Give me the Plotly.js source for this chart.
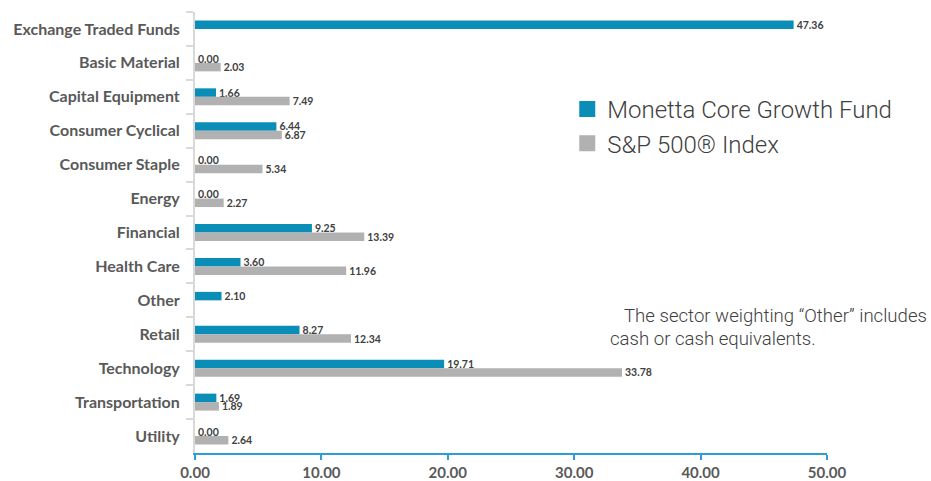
<!DOCTYPE html>
<html>
<head>
<meta charset="utf-8">
<script src="https://cdn.plot.ly/plotly-3.0.1.min.js"></script>
<style>html,body{margin:0;padding:0;background:#fff;}#chart{width:931px;height:481px;}</style>
</head>
<body>
<div id="chart"></div>
<script>
const categories = ["Exchange Traded Funds","Basic Material","Capital Equipment","Consumer Cyclical","Consumer Staple","Energy","Financial","Health Care","Other","Retail","Technology","Transportation","Utility"];
const fundValues = [47.36, 0.00, 1.66, 6.44, 0.00, 0.00, 9.25, 3.60, 2.10, 8.27, 19.71, 1.69, 0.00];
const indexValues = [null, 2.03, 7.49, 6.87, 5.34, 2.27, 13.39, 11.96, null, 12.34, 33.78, 1.89, 2.64];
const xTicks = [0, 10, 20, 30, 40, 50];
const seriesNames = ["Monetta Core Growth Fund", "S&P 500® Index"];
const seriesColors = ["#0A8EB8", "#B1B1B1"];

const fmt = v => (v === null ? "" : v.toFixed(2));
const labelFont = {family: "Lato, 'Open Sans', sans-serif", size: 10.5, color: "#404040", weight: 700};

const traces = [
  {type: "bar", orientation: "h", name: seriesNames[0], y: categories, x: fundValues,
   marker: {color: seriesColors[0]}, text: fundValues.map(fmt), textposition: "outside",
   constraintext: "none", textfont: labelFont, cliponaxis: false, showlegend: false},
  {type: "bar", orientation: "h", name: seriesNames[1], y: categories, x: indexValues,
   marker: {color: seriesColors[1]}, text: indexValues.map(fmt), textposition: "outside",
   constraintext: "none", textfont: labelFont, cliponaxis: false, showlegend: false},
  // legend-only entries (square keys)
  {type: "scatter", mode: "markers", name: seriesNames[0], x: [null], y: [categories[0]],
   marker: {symbol: "square", size: 16, color: seriesColors[0]}, showlegend: true},
  {type: "scatter", mode: "markers", name: seriesNames[1], x: [null], y: [categories[0]],
   marker: {symbol: "square", size: 16, color: seriesColors[1]}, showlegend: true}
];

const layout = {
  width: 931, height: 481,
  margin: {l: 195, r: 104, t: 12, b: 28},
  paper_bgcolor: "#fff", plot_bgcolor: "#fff",
  barmode: "group", bargap: 0.5, bargroupgap: 0,
  showlegend: true,
  legend: {x: 0.589, y: 0.83, xanchor: "left", yanchor: "top", traceorder: "normal",
           font: {family: "Roboto, sans-serif", size: 24, color: "#404040", weight: 300},
           tracegroupgap: 0, itemsizing: "trace", itemwidth: 30, bgcolor: "rgba(0,0,0,0)"},
  xaxis: {range: [0, 50], tickvals: xTicks, tickformat: ".2f", showgrid: false, zeroline: false,
          showline: true, linecolor: "#2E9BDB", linewidth: 2, ticks: "outside", ticklen: 5,
          tickcolor: "#2E9BDB", tickwidth: 2,
          tickfont: {family: "Lato, 'Open Sans', sans-serif", size: 15, color: "#595959", weight: 700}},
  yaxis: {type: "category", categoryorder: "array", categoryarray: categories,
          range: [categories.length - 0.5, -0.5], autorange: false,
          showgrid: false, zeroline: false, showline: true, linecolor: "#D9D9D9", linewidth: 2,
          ticks: "outside", tickson: "boundaries", ticklen: 7, tickcolor: "#D9D9D9", tickwidth: 2,
          ticklabelstandoff: 10,
          tickfont: {family: "Lato, 'Open Sans', sans-serif", size: 16, color: "#595959", weight: 700}},
  annotations: [
    {xref: "paper", yref: "paper", x: (622 - 195) / 632, y: 1 - (316 - 12) / 441, xanchor: "left", yanchor: "middle",
     text: "The sector weighting “Other” includes", showarrow: false,
     font: {family: "Roboto, sans-serif", size: 18.6, color: "#404040", weight: 300}},
    {xref: "paper", yref: "paper", x: (608 - 195) / 632, y: 1 - (339 - 12) / 441, xanchor: "left", yanchor: "middle",
     text: "cash or cash equivalents.", showarrow: false,
     font: {family: "Roboto, sans-serif", size: 18.6, color: "#404040", weight: 300}}
  ]
};

Plotly.newPlot("chart", traces, layout, {displayModeBar: false, staticPlot: true});
</script>
</body>
</html>
